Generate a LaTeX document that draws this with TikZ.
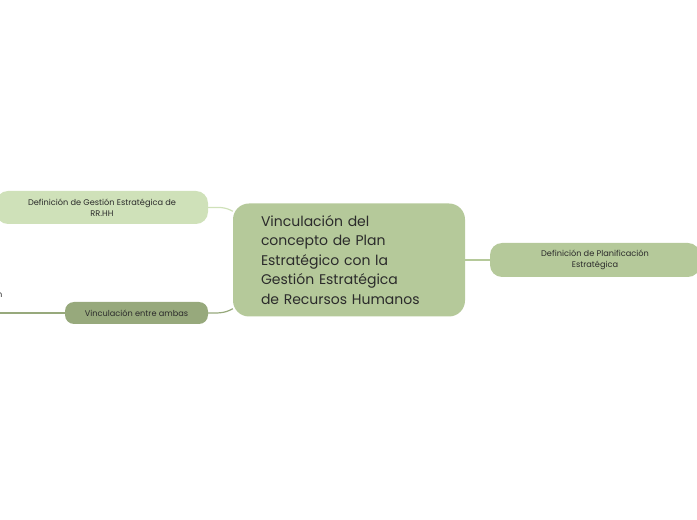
\documentclass[tikz,border=0pt]{standalone}
\usepackage{fontspec}
\setmainfont{Poppins}
\definecolor{cmain}{HTML}{B5C99A}
\definecolor{cleft}{HTML}{CFE1B9}
\definecolor{cvin}{HTML}{97A97C}
\definecolor{txt}{HTML}{2B2B2B}
\begin{document}
\begin{tikzpicture}[x=1pt,y=1pt,
  box/.style={rounded corners=12pt,inner sep=0pt,align=center,text=txt},
  conn/.style={line width=1.2pt,draw=#1}]
\useasboundingbox (0,0) rectangle (697,520);
\node[box,fill=cmain,minimum width=232pt,minimum height=113pt,rounded corners=16pt,align=left,text width=176pt,font=\fontsize{14}{19.5}\selectfont] (c) at (349,260) {Vinculación del\\concepto de Plan\\Estratégico con la\\Gestión Estratégica\\de Recursos Humanos};
\node[box,fill=cleft,minimum width=212pt,minimum height=33pt,font=\fontsize{8.2}{11}\selectfont] (l) at (102,312.5) {Definición de Gestión Estratégica de\\RR.HH};
\node[box,fill=cvin,minimum width=143pt,minimum height=22pt,rounded corners=9pt,font=\fontsize{8.2}{10}\selectfont] (v) at (136.5,207) {Vinculación entre ambas};
\node[box,fill=cmain,minimum width=210pt,minimum height=34pt,font=\fontsize{8.2}{11}\selectfont] (r) at (595,260) {Definición de Planificación\\Estratégica};
\coordinate (e) at (0,207);
\node[anchor=west,inner sep=0pt,font=\fontsize{8.2}{10}\selectfont,text=txt] (n) at (-3,225) {n};
\draw[conn=cleft] (l.east) to[out=0,in=150] ([yshift=-8pt]c.north west);
\draw[conn=cvin] (v.east) to[out=0,in=210] ([yshift=8pt]c.south west);
\draw[conn=cmain] (c.east) -- (r.west);
\draw[conn=cvin] (v.west) -- (e);
\end{tikzpicture}
\end{document}
